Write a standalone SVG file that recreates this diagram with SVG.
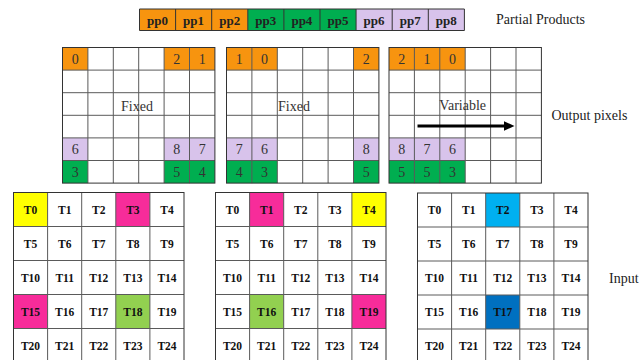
<svg xmlns="http://www.w3.org/2000/svg" width="639" height="360" viewBox="0 0 639 360">
<style>
.or{fill:#F7940F}.gr{fill:#00AE50}.lv{fill:#D8C3EB}
.pp{font-family:"Liberation Serif",serif;font-weight:bold;font-size:13px;fill:#222;text-anchor:middle}
.num{font-family:"Liberation Serif",serif;font-size:14px;fill:#333;text-anchor:middle}
.t{font-family:"Liberation Serif",serif;font-weight:bold;font-size:11.5px;fill:#111;text-anchor:middle}
.lbl{font-family:"Liberation Serif",serif;font-size:14px;fill:#222}
.gl{fill:none;stroke:#5a5a5a;stroke-width:1}
.ol{fill:none;stroke:#333;stroke-width:1}
</style>
<defs>
<path id="og" d="M25.4 0V135.6M50.8 0V135.6M76.2 0V135.6M101.6 0V135.6M127 0V135.6M0 22.6H152.4M0 45.2H152.4M0 67.8H152.4M0 90.4H152.4M0 113H152.4"/>
<path id="ig" d="M34.1 0V170M68.2 0V170M102.3 0V170M136.4 0V170M0 34H170.5M0 68H170.5M0 102H170.5M0 136H170.5"/>
</defs>

<g id="partial-products">
<rect class="or" x="139.5" y="9" width="108.3" height="21.5"/>
<rect class="gr" x="247.8" y="9" width="108.3" height="21.5"/>
<rect class="lv" x="356.1" y="9" width="108.3" height="21.5"/>
<path class="ol" d="M139.5 9H464.4V30.5H139.5ZM175.6 9V30.5M211.7 9V30.5M247.8 9V30.5M283.9 9V30.5M320 9V30.5M356.1 9V30.5M392.2 9V30.5M428.3 9V30.5"/>
<text class="pp" x="157.5" y="24.5">pp0</text>
<text class="pp" x="193.6" y="24.5">pp1</text>
<text class="pp" x="229.7" y="24.5">pp2</text>
<text class="pp" x="265.8" y="24.5">pp3</text>
<text class="pp" x="301.9" y="24.5">pp4</text>
<text class="pp" x="338" y="24.5">pp5</text>
<text class="pp" x="374.1" y="24.5">pp6</text>
<text class="pp" x="410.2" y="24.5">pp7</text>
<text class="pp" x="446.3" y="24.5">pp8</text>
<text class="lbl" x="496" y="24">Partial Products</text>
</g>

<g id="output-grid-1" transform="translate(62.5,47.5)">
<rect class="or" x="0" y="0" width="25.4" height="22.6"/>
<rect class="or" x="101.6" y="0" width="50.8" height="22.6"/>
<rect class="lv" x="0" y="90.4" width="25.4" height="22.6"/>
<rect class="lv" x="101.6" y="90.4" width="50.8" height="22.6"/>
<rect class="gr" x="0" y="113" width="25.4" height="22.6"/>
<rect class="gr" x="101.6" y="113" width="50.8" height="22.6"/>
<use href="#og" class="gl"/>
<rect class="ol" x="0" y="0" width="152.4" height="135.6"/>
<text class="num" x="12.7" y="16.5">0</text>
<text class="num" x="114.3" y="16.5">2</text>
<text class="num" x="139.7" y="16.5">1</text>
<text class="num" x="12.7" y="106.9">6</text>
<text class="num" x="114.3" y="106.9">8</text>
<text class="num" x="139.7" y="106.9">7</text>
<text class="num" x="12.7" y="129.5">3</text>
<text class="num" x="114.3" y="129.5">5</text>
<text class="num" x="139.7" y="129.5">4</text>
<text class="num" x="74.5" y="63.5">Fixed</text>
</g>

<g id="output-grid-2" transform="translate(226.5,47.5)">
<rect class="or" x="0" y="0" width="50.8" height="22.6"/>
<rect class="or" x="127" y="0" width="25.4" height="22.6"/>
<rect class="lv" x="0" y="90.4" width="50.8" height="22.6"/>
<rect class="lv" x="127" y="90.4" width="25.4" height="22.6"/>
<rect class="gr" x="0" y="113" width="50.8" height="22.6"/>
<rect class="gr" x="127" y="113" width="25.4" height="22.6"/>
<use href="#og" class="gl"/>
<rect class="ol" x="0" y="0" width="152.4" height="135.6"/>
<text class="num" x="12.7" y="16.5">1</text>
<text class="num" x="38.1" y="16.5">0</text>
<text class="num" x="139.7" y="16.5">2</text>
<text class="num" x="12.7" y="106.9">7</text>
<text class="num" x="38.1" y="106.9">6</text>
<text class="num" x="139.7" y="106.9">8</text>
<text class="num" x="12.7" y="129.5">4</text>
<text class="num" x="38.1" y="129.5">3</text>
<text class="num" x="139.7" y="129.5">5</text>
<text class="num" x="67.5" y="63.5">Fixed</text>
</g>

<g id="output-grid-3" transform="translate(389,47.5)">
<rect class="or" x="0" y="0" width="76.2" height="22.6"/>
<rect class="lv" x="0" y="90.4" width="76.2" height="22.6"/>
<rect class="gr" x="0" y="113" width="76.2" height="22.6"/>
<use href="#og" class="gl"/>
<rect class="ol" x="0" y="0" width="152.4" height="135.6"/>
<text class="num" x="12.7" y="16.5">2</text>
<text class="num" x="38.1" y="16.5">1</text>
<text class="num" x="63.5" y="16.5">0</text>
<text class="num" x="12.7" y="106.9">8</text>
<text class="num" x="38.1" y="106.9">7</text>
<text class="num" x="63.5" y="106.9">6</text>
<text class="num" x="12.7" y="129.5">5</text>
<text class="num" x="38.1" y="129.5">5</text>
<text class="num" x="63.5" y="129.5">3</text>
<text class="num" x="73.7" y="62.5">Variable</text>
<line x1="28.5" y1="78.5" x2="117" y2="78.5" stroke="#000" stroke-width="3"/>
<polygon points="115,73.8 125.5,78.5 115,83.2" fill="#000"/>
</g>

<text class="lbl" x="551.5" y="120">Output pixels</text>

<g id="input-grid-1" transform="translate(13.5,192.5)">
<rect x="0" y="0" width="34.1" height="34" fill="#FFFF00"/>
<rect x="102.3" y="0" width="34.1" height="34" fill="#F72C9A"/>
<rect x="0" y="102" width="34.1" height="34" fill="#F72C9A"/>
<rect x="102.3" y="102" width="34.1" height="34" fill="#92D050"/>
<use href="#ig" class="gl"/>
<rect class="ol" x="0" y="0" width="170.5" height="170"/>
<text class="t" x="17" y="21">T0</text><text class="t" x="51.2" y="21">T1</text><text class="t" x="85.3" y="21">T2</text><text class="t" x="119.4" y="21">T3</text><text class="t" x="153.5" y="21">T4</text>
<text class="t" x="17" y="55">T5</text><text class="t" x="51.2" y="55">T6</text><text class="t" x="85.3" y="55">T7</text><text class="t" x="119.4" y="55">T8</text><text class="t" x="153.5" y="55">T9</text>
<text class="t" x="17" y="89">T10</text><text class="t" x="51.2" y="89">T11</text><text class="t" x="85.3" y="89">T12</text><text class="t" x="119.4" y="89">T13</text><text class="t" x="153.5" y="89">T14</text>
<text class="t" x="17" y="123">T15</text><text class="t" x="51.2" y="123">T16</text><text class="t" x="85.3" y="123">T17</text><text class="t" x="119.4" y="123">T18</text><text class="t" x="153.5" y="123">T19</text>
<text class="t" x="17" y="157">T20</text><text class="t" x="51.2" y="157">T21</text><text class="t" x="85.3" y="157">T22</text><text class="t" x="119.4" y="157">T23</text><text class="t" x="153.5" y="157">T24</text>
</g>

<g id="input-grid-2" transform="translate(215.5,192.5)">
<rect x="34.1" y="0" width="34.1" height="34" fill="#F72C9A"/>
<rect x="136.4" y="0" width="34.1" height="34" fill="#FFFF00"/>
<rect x="34.1" y="102" width="34.1" height="34" fill="#92D050"/>
<rect x="136.4" y="102" width="34.1" height="34" fill="#F72C9A"/>
<use href="#ig" class="gl"/>
<rect class="ol" x="0" y="0" width="170.5" height="170"/>
<text class="t" x="17" y="21">T0</text><text class="t" x="51.2" y="21">T1</text><text class="t" x="85.3" y="21">T2</text><text class="t" x="119.4" y="21">T3</text><text class="t" x="153.5" y="21">T4</text>
<text class="t" x="17" y="55">T5</text><text class="t" x="51.2" y="55">T6</text><text class="t" x="85.3" y="55">T7</text><text class="t" x="119.4" y="55">T8</text><text class="t" x="153.5" y="55">T9</text>
<text class="t" x="17" y="89">T10</text><text class="t" x="51.2" y="89">T11</text><text class="t" x="85.3" y="89">T12</text><text class="t" x="119.4" y="89">T13</text><text class="t" x="153.5" y="89">T14</text>
<text class="t" x="17" y="123">T15</text><text class="t" x="51.2" y="123">T16</text><text class="t" x="85.3" y="123">T17</text><text class="t" x="119.4" y="123">T18</text><text class="t" x="153.5" y="123">T19</text>
<text class="t" x="17" y="157">T20</text><text class="t" x="51.2" y="157">T21</text><text class="t" x="85.3" y="157">T22</text><text class="t" x="119.4" y="157">T23</text><text class="t" x="153.5" y="157">T24</text>
</g>

<g id="input-grid-3" transform="translate(417.5,193)">
<rect x="68.2" y="0" width="34.1" height="34" fill="#00B0F0"/>
<rect x="68.2" y="102" width="34.1" height="34" fill="#0070C0"/>
<use href="#ig" class="gl"/>
<rect class="ol" x="0" y="0" width="170.5" height="170"/>
<text class="t" x="17" y="21">T0</text><text class="t" x="51.2" y="21">T1</text><text class="t" x="85.3" y="21">T2</text><text class="t" x="119.4" y="21">T3</text><text class="t" x="153.5" y="21">T4</text>
<text class="t" x="17" y="55">T5</text><text class="t" x="51.2" y="55">T6</text><text class="t" x="85.3" y="55">T7</text><text class="t" x="119.4" y="55">T8</text><text class="t" x="153.5" y="55">T9</text>
<text class="t" x="17" y="89">T10</text><text class="t" x="51.2" y="89">T11</text><text class="t" x="85.3" y="89">T12</text><text class="t" x="119.4" y="89">T13</text><text class="t" x="153.5" y="89">T14</text>
<text class="t" x="17" y="123">T15</text><text class="t" x="51.2" y="123">T16</text><text class="t" x="85.3" y="123">T17</text><text class="t" x="119.4" y="123">T18</text><text class="t" x="153.5" y="123">T19</text>
<text class="t" x="17" y="157">T20</text><text class="t" x="51.2" y="157">T21</text><text class="t" x="85.3" y="157">T22</text><text class="t" x="119.4" y="157">T23</text><text class="t" x="153.5" y="157">T24</text>
</g>

<text class="lbl" x="609" y="283">Input</text>
<g id="connectors"/>
</svg>
